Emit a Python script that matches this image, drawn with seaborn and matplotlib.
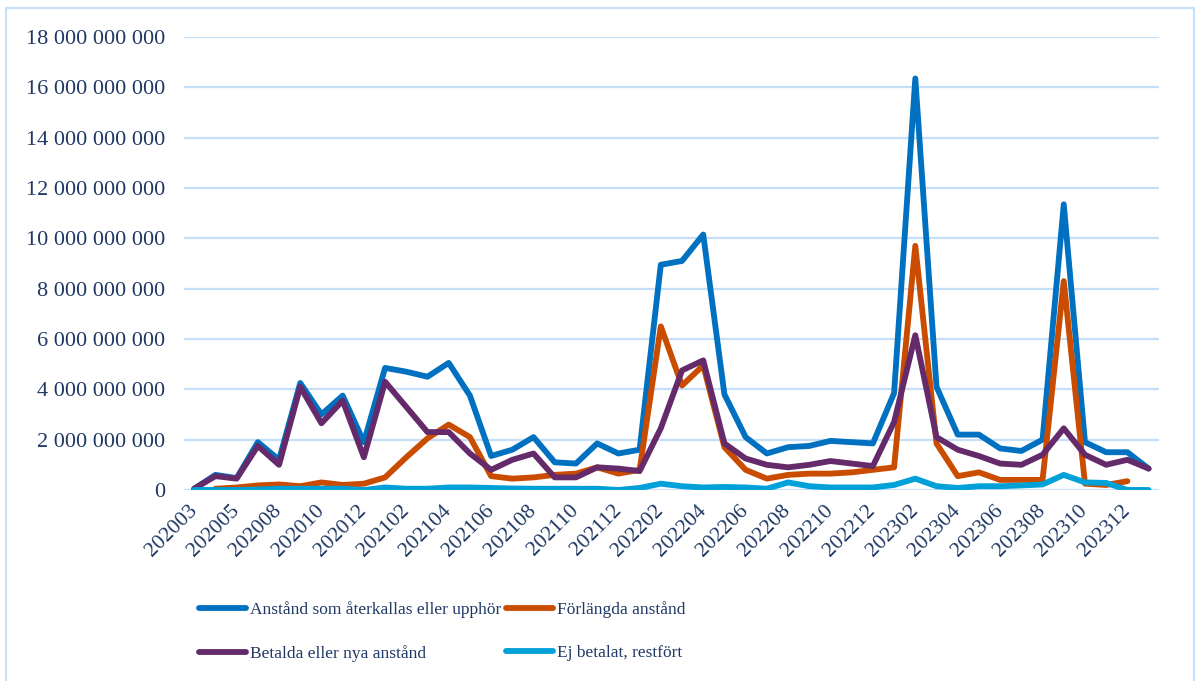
import pandas as pd
import seaborn as sns
import matplotlib.pyplot as plt
from matplotlib.patches import Rectangle
from matplotlib.ticker import FuncFormatter

# Months (one month, 202006, is missing in the source)
months = ["202003", "202004", "202005", "202007", "202008", "202009", "202010", "202011", "202012"]
months += [f"{y}{m:02d}" for y in (2021, 2022, 2023) for m in range(1, 13)]
months += ["202401"]

# Values in billions SEK
aterkallas = [0.05, 0.6, 0.47, 1.9, 1.2, 4.25, 3.0, 3.75, 1.9, 4.85, 4.7, 4.5,
              5.05, 3.75, 1.35, 1.6, 2.1, 1.1, 1.05, 1.85, 1.45, 1.6, 8.95, 9.1,
              10.15, 3.8, 2.1, 1.45, 1.7, 1.75, 1.95, 1.9, 1.85, 3.85, 16.35, 4.1,
              2.2, 2.2, 1.65, 1.55, 2.0, 11.35, 1.9, 1.5, 1.5, 0.85]
forlangda = [None, 0.05, 0.1, 0.18, 0.22, 0.15, 0.3, 0.2, 0.25, 0.5, 1.3, 2.05,
             2.6, 2.1, 0.55, 0.45, 0.5, 0.6, 0.65, 0.9, 0.65, 0.8, 6.5, 4.15,
             4.95, 1.7, 0.8, 0.45, 0.6, 0.65, 0.65, 0.7, 0.8, 0.9, 9.7, 1.85,
             0.55, 0.7, 0.4, 0.4, 0.4, 8.3, 0.25, 0.2, 0.35, None]
betalda = [0.05, 0.55, 0.45, 1.75, 1.0, 4.1, 2.65, 3.55, 1.3, 4.3, 3.3, 2.3,
           2.3, 1.45, 0.8, 1.2, 1.45, 0.5, 0.5, 0.9, 0.85, 0.75, 2.45, 4.75,
           5.15, 1.85, 1.25, 1.0, 0.9, 1.0, 1.15, 1.05, 0.95, 2.7, 6.15, 2.1,
           1.6, 1.35, 1.05, 1.0, 1.4, 2.45, 1.4, 1.0, 1.2, 0.85]
restfort = [0.0, 0.0, 0.0, 0.02, 0.05, 0.05, 0.05, 0.05, 0.0, 0.1, 0.05, 0.05,
            0.1, 0.1, 0.08, 0.06, 0.05, 0.05, 0.05, 0.05, 0.0, 0.08, 0.25, 0.15,
            0.1, 0.12, 0.1, 0.05, 0.3, 0.15, 0.1, 0.1, 0.1, 0.2, 0.45, 0.15,
            0.08, 0.15, 0.15, 0.18, 0.22, 0.6, 0.3, 0.28, 0.0, 0.0]

series = {
    "Anstånd som återkallas eller upphör": aterkallas,
    "Förlängda anstånd": forlangda,
    "Betalda eller nya anstånd": betalda,
    "Ej betalat, restfört": restfort,
}
colors = ["#0070C0", "#C94C00", "#642A6A", "#00A0D8"]

rows = []
for name, vals in series.items():
    for i, v in enumerate(vals):
        if v is not None:
            rows.append({"idx": i, "value": v * 1e9, "serie": name})
df = pd.DataFrame(rows)

sns.set_style("white")
plt.rcParams["font.family"] = ["Liberation Serif", "DejaVu Serif"]
text_color = "#1F3864"
grid_color = "#C5DFF8"

fig = plt.figure(figsize=(12, 6.81), dpi=100)
ax = fig.add_axes([0.153, 0.2805, 0.813, 0.6652])

sns.lineplot(data=df, x="idx", y="value", hue="serie", palette=colors,
             hue_order=list(series.keys()), linewidth=4.2, ax=ax,
             solid_capstyle="round", solid_joinstyle="round")

ax.set_xlim(-0.5, len(months) - 0.5)
ax.set_ylim(0, 18e9)
ax.set_yticks([i * 2e9 for i in range(10)])
ax.yaxis.set_major_formatter(FuncFormatter(lambda v, p: f"{int(round(v)):,}".replace(",", " ")))
ax.yaxis.grid(True, color=grid_color, linewidth=1.6)
ax.set_axisbelow(True)
for s in ax.spines.values():
    s.set_visible(False)

ax.set_xticks(range(0, len(months), 2))
ax.set_xticklabels(months[::2], rotation=45, ha="right", va="center",
                   rotation_mode="anchor")
ax.tick_params(axis="x", length=0, pad=13, labelsize=15.5, labelcolor=text_color)
ax.tick_params(axis="y", length=0, pad=13, labelsize=16, labelcolor=text_color)
ax.set_xlabel("")
ax.set_ylabel("")

# legend: row 1 = first two series, row 2 = last two
handles, labels = ax.get_legend_handles_labels()
order = [0, 2, 1, 3]
ax.legend([handles[i] for i in order], [labels[i] for i in order], ncol=2,
          loc="upper left", bbox_to_anchor=(0.159, 0.13), bbox_transform=fig.transFigure,
          frameon=False, fontsize=12.5, labelcolor=text_color, handlelength=2.7,
          handletextpad=0.2, columnspacing=0.3, labelspacing=1.55, borderpad=0)

# chart border
fig.patches.append(Rectangle((0.005, -0.01), 0.99, 0.998, transform=fig.transFigure,
                             fill=False, edgecolor=grid_color, linewidth=1.5))

fig.savefig("out.png", dpi=100)
